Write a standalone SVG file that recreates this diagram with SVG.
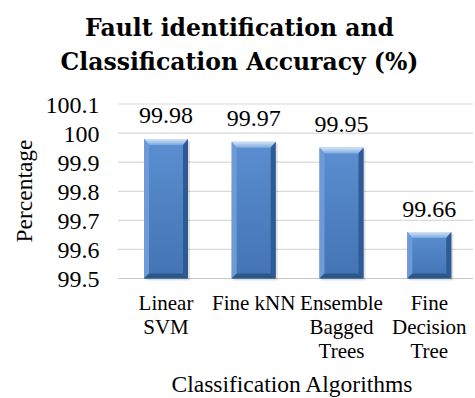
<svg xmlns="http://www.w3.org/2000/svg" width="475" height="398" viewBox="0 0 475 398">
<style>
.t{font-family:'Liberation Serif',serif;fill:#000}
.title{font-family:'DejaVu Serif',serif;font-size:23.5px;font-weight:bold;text-anchor:middle}
.cat{font-size:21px;text-anchor:middle}
.ax{font-size:23.5px;text-anchor:middle}
.grid{stroke:#d9d9d9;stroke-width:1.2}
.face{fill:url(#face)}
.topb{fill:url(#topb)}
.lb{fill:#6e9ad6}
.rb{fill:#2f5b94}
.bb{fill:#2d5789}
.sh{fill:#000;opacity:0.12}
</style>
<defs>
<linearGradient id="face" x1="0" y1="0" x2="0" y2="1">
<stop offset="0" stop-color="#5b8fd1"/>
<stop offset="1" stop-color="#4373b3"/>
</linearGradient>
<linearGradient id="topb" x1="0" y1="0" x2="0" y2="1">
<stop offset="0" stop-color="#d2e4f8"/>
<stop offset="1" stop-color="#7ba8e0"/>
</linearGradient>
</defs>
<g id="title">
<text class="t title" x="239.5" y="35.5">Fault identification and</text>
<text class="t title" x="239.5" y="70">Classification Accuracy (%)</text>
</g>
<g id="gridlines">
<line class="grid" x1="118" y1="104" x2="473" y2="104"/>
<line class="grid" x1="118" y1="133.1" x2="473" y2="133.1"/>
<line class="grid" x1="118" y1="162.2" x2="473" y2="162.2"/>
<line class="grid" x1="118" y1="191.3" x2="473" y2="191.3"/>
<line class="grid" x1="118" y1="220.3" x2="473" y2="220.3"/>
<line class="grid" x1="118" y1="249.4" x2="473" y2="249.4"/>
<line x1="118" y1="278.5" x2="473" y2="278.5" stroke="#c8c8c8" stroke-width="1.2"/>
</g>
<g id="y-axis" font-family="Liberation Serif, serif" font-size="24" text-anchor="end">
<text x="99.5" y="112.5">100.1</text>
<text x="99.5" y="141.5">100</text>
<text x="99.5" y="170.5">99.9</text>
<text x="99.5" y="199.5">99.8</text>
<text x="99.5" y="228.5">99.7</text>
<text x="99.5" y="257.5">99.6</text>
<text x="99.5" y="286.5">99.5</text>
<text class="t ax" transform="translate(32,191) rotate(-90)">Percentage</text>
</g>
<g id="bar-linear-svm">
<rect class="sh" x="146" y="141" width="44" height="139.5"/>
<rect class="face" x="144" y="139" width="44" height="139.5"/>
<polygon class="topb" points="144,139 188,139 183,145 149,145"/>
<polygon class="lb" points="144,139 149,145 149,273.5 144,278.5"/>
<polygon class="rb" points="188,139 183,145 183,273.5 188,278.5"/>
<polygon class="bb" points="144,278.5 149,273.5 183,273.5 188,278.5"/>
<text x="166" y="123.3" font-family="Liberation Serif, serif" font-size="24" text-anchor="middle">99.98</text>
</g>
<g id="bar-fine-knn">
<rect class="sh" x="233.7" y="143.8" width="44" height="136.7"/>
<rect class="face" x="231.7" y="141.8" width="44" height="136.7"/>
<polygon class="topb" points="231.7,141.8 275.7,141.8 270.7,147.8 236.7,147.8"/>
<polygon class="lb" points="231.7,141.8 236.7,147.8 236.7,273.5 231.7,278.5"/>
<polygon class="rb" points="275.7,141.8 270.7,147.8 270.7,273.5 275.7,278.5"/>
<polygon class="bb" points="231.7,278.5 236.7,273.5 270.7,273.5 275.7,278.5"/>
<text x="253.7" y="126.2" font-family="Liberation Serif, serif" font-size="24" text-anchor="middle">99.97</text>
</g>
<g id="bar-ensemble">
<rect class="sh" x="321.5" y="149.6" width="44" height="130.9"/>
<rect class="face" x="319.5" y="147.6" width="44" height="130.9"/>
<polygon class="topb" points="319.5,147.6 363.5,147.6 358.5,153.6 324.5,153.6"/>
<polygon class="lb" points="319.5,147.6 324.5,153.6 324.5,273.5 319.5,278.5"/>
<polygon class="rb" points="363.5,147.6 358.5,153.6 358.5,273.5 363.5,278.5"/>
<polygon class="bb" points="319.5,278.5 324.5,273.5 358.5,273.5 363.5,278.5"/>
<text x="341.5" y="132" font-family="Liberation Serif, serif" font-size="24" text-anchor="middle">99.95</text>
</g>
<g id="bar-fine-tree">
<rect class="sh" x="409.3" y="234" width="44" height="46.5"/>
<rect class="face" x="407.3" y="232" width="44" height="46.5"/>
<polygon class="topb" points="407.3,232 451.3,232 446.3,238 412.3,238"/>
<polygon class="lb" points="407.3,232 412.3,238 412.3,273.5 407.3,278.5"/>
<polygon class="rb" points="451.3,232 446.3,238 446.3,273.5 451.3,278.5"/>
<polygon class="bb" points="407.3,278.5 412.3,273.5 446.3,273.5 451.3,278.5"/>
<text x="429.3" y="216.5" font-family="Liberation Serif, serif" font-size="24" text-anchor="middle">99.66</text>
</g>
<g id="x-axis">
<text class="t cat" x="166" y="310">Linear</text>
<text class="t cat" x="166" y="334">SVM</text>
<text class="t cat" x="253.7" y="310">Fine kNN</text>
<text class="t cat" x="341.5" y="310">Ensemble</text>
<text class="t cat" x="341.5" y="334">Bagged</text>
<text class="t cat" x="341.5" y="358">Trees</text>
<text class="t cat" x="429.3" y="310">Fine</text>
<text class="t cat" x="429.3" y="334">Decision</text>
<text class="t cat" x="429.3" y="358">Tree</text>
<text class="t ax" x="292" y="391.5">Classification Algorithms</text>
</g>
</svg>
